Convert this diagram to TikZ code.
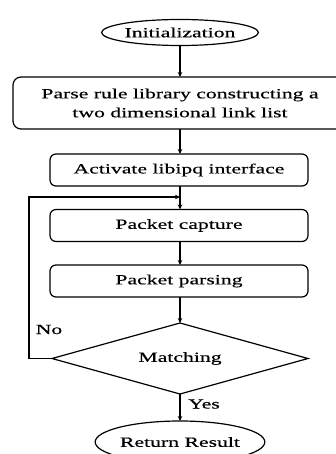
\documentclass[tikz,border=0pt]{standalone}
\usepackage{fontspec}
\setmainfont{Liberation Serif}[FakeStretch=1.55,FakeBold=0.4]
\usetikzlibrary{shapes.geometric,arrows.meta}
\begin{document}
\begin{tikzpicture}[x=1pt,y=-1pt,
  line width=1.2pt,
  font=\fontsize{14}{19}\selectfont,
  every node/.style={inner sep=0pt, outer sep=0pt},
  terminal/.style={draw, ellipse, minimum width=#1},
  stepbox/.style={draw, rounded corners=6pt, minimum width=258pt, minimum height=32pt, align=center},
  decision/.style={draw, diamond, minimum width=256pt, minimum height=71pt, aspect=3.6},
  flow/.style={-{Stealth[length=5pt,width=4.5pt]}},
]
\useasboundingbox (0,0) rectangle (335,454);

\node[terminal=156pt, minimum height=26pt] (init) at (180,32.5) {Initialization};
\node[draw, rounded corners=8pt, minimum width=334pt, minimum height=52pt, align=center]
  (parse) at (180,103) {Parse rule library constructing a\\two dimensional link list};
\node[stepbox] (act) at (179,170) {Activate libipq interface};
\node[stepbox] (cap) at (179,225.5) {Packet capture};
\node[stepbox] (pars) at (179,281) {Packet parsing};
\node[decision] (match) at (180,358.5) {Matching};
\node[terminal=160pt, minimum height=42pt] (ret) at (180,442) {Return Result};

\coordinate (join) at (180,197);

\draw[flow] (init) -- (parse);
\draw[flow] (parse.south -| init) -- (act.north -| init);
\draw[flow] (act.south -| init) -- (cap.north -| init);
\draw[flow] (cap.south -| init) -- (pars.north -| init);
\draw[flow] (pars.south -| init) -- (match.north);
\draw[flow] (match.south) -- (ret.north);
\draw[flow] (match.west) -- ++(-23,0) |- (join);

\node (no) at (49,329.5) {No};
\node (yes) at (204,404) {Yes};
\end{tikzpicture}
\end{document}
